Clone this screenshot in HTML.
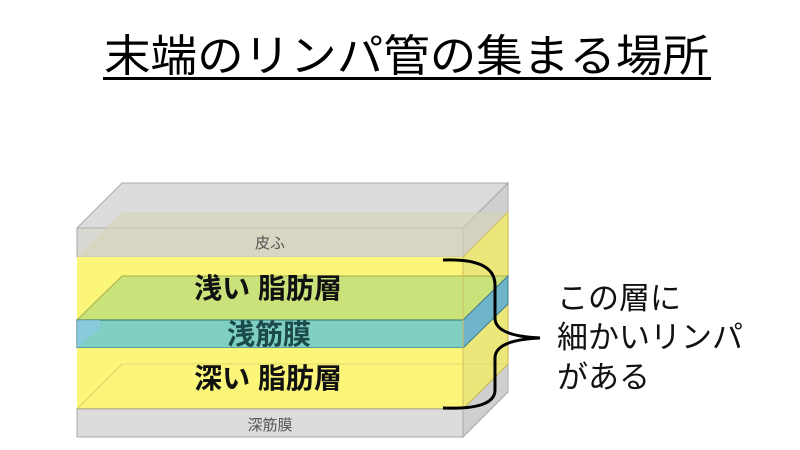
<!DOCTYPE html>
<html><head><meta charset="utf-8"><style>
html,body{margin:0;padding:0;background:#fff;}
svg{display:block}
text{font-family:"Liberation Sans","Noto Sans CJK JP",sans-serif;}
</style></head><body>
<svg width="800" height="450" viewBox="0 0 800 450" xmlns="http://www.w3.org/2000/svg">
<text x="104" y="71" font-size="44" fill="#000" textLength="605" lengthAdjust="spacingAndGlyphs">末端のリンパ管の集まる場所</text>
<rect x="103" y="77" width="608" height="3" fill="#000"/>

<polygon points="77,228 122,183 508,183 463,228" fill="#dcdcdc" stroke="#aaa" stroke-width="1"/>
<polygon points="463,228 508,183 508,392 463,437" fill="#cfcfcf" stroke="#aaa" stroke-width="1"/>
<polygon points="463,257 508,212 508,364 463,409" fill="#ece77a" stroke="#c8b44a" stroke-width="1"/>
<rect x="77" y="228" width="386" height="29" fill="#d9d9d4" stroke="#aaa"/>
<polygon points="77,257 122,212 508,212 463,257" fill="#d6d3b8" opacity="0.6"/>
<text x="270" y="248" font-size="15" fill="#555" text-anchor="middle">皮ふ</text>
<rect x="77" y="257" width="386" height="63" fill="#fbf57a"/>
<polygon points="77,320 122,276 508,276 463,320" fill="#c9e27a" stroke="#a8b04a" stroke-width="1"/>
<polygon points="463,320 508,276 508,304 463,348" fill="#6fb4c8" stroke="#3f7f90" stroke-width="1"/>
<rect x="77" y="320" width="386" height="28" fill="#7fcfc3" stroke="#2f6f70" stroke-width="1"/>
<polygon points="77,348 100,328 100,320 77,320" fill="#8ec8e8" opacity="0.7"/>
<rect x="77" y="348" width="386" height="61" fill="#fbf57a"/>
<line x1="77" y1="409" x2="122" y2="364" stroke="#d8cf6a" stroke-width="1"/>
<line x1="122" y1="364" x2="508" y2="364" stroke="#e0d870" stroke-width="1"/>
<line x1="77" y1="409" x2="463" y2="409" stroke="#c8b030" stroke-width="1.5"/>
<rect x="77" y="409" width="386" height="28" fill="#dcdcdc" stroke="#aaa"/>
<line x1="463" y1="257" x2="463" y2="409" stroke="#d0c060" stroke-width="1"/>
<text x="268" y="298" font-size="28" font-weight="bold" fill="#111" text-anchor="middle">浅い 脂肪層</text>
<text x="269" y="344" font-size="28" font-weight="bold" fill="#1a4a4a" text-anchor="middle">浅筋膜</text>
<text x="268" y="388" font-size="28" font-weight="bold" fill="#111" text-anchor="middle">深い 脂肪層</text>
<text x="270" y="430" font-size="15" fill="#555" text-anchor="middle">深筋膜</text>

<path d="M443,260 Q495,258 495,285 L495,318 Q495,336 540,338 Q495,340 495,358 L495,390 Q495,410 443,408" fill="none" stroke="#000" stroke-width="3"/>

<text x="557" y="309" font-size="31" fill="#111">この層に</text>
<text x="557" y="348" font-size="31" fill="#111">細かいリンパ</text>
<text x="557" y="388" font-size="31" fill="#111">がある</text>
</svg>
</body></html>
